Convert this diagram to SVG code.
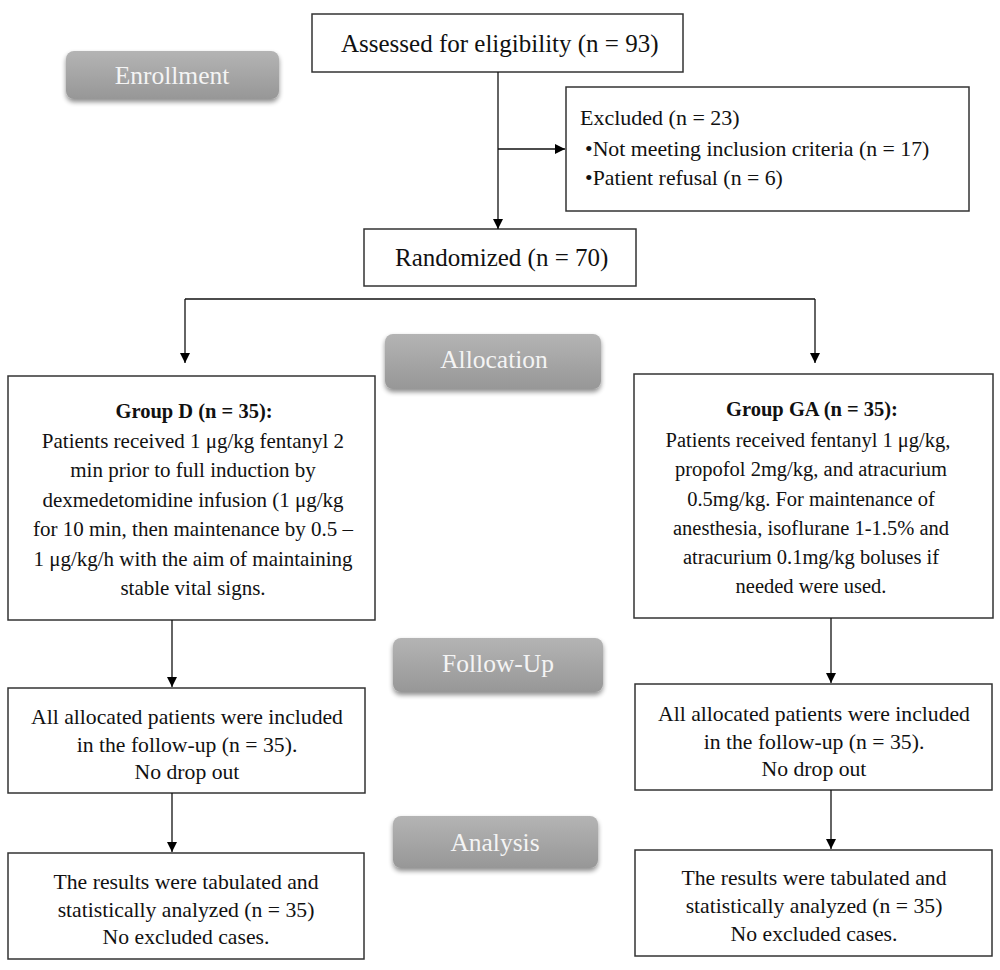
<svg xmlns="http://www.w3.org/2000/svg" width="1000" height="970" viewBox="0 0 1000 970">
<defs>
<linearGradient id="gray" x1="0" y1="0" x2="0" y2="1">
<stop offset="0" stop-color="#b4b4b4"/>
<stop offset="1" stop-color="#979797"/>
</linearGradient>
<filter id="sh" x="-10%" y="-20%" width="120%" height="150%">
<feGaussianBlur in="SourceAlpha" stdDeviation="2.5"/>
<feOffset dx="0" dy="3" result="b"/>
<feComponentTransfer><feFuncA type="linear" slope="0.45"/></feComponentTransfer>
<feMerge><feMergeNode/><feMergeNode in="SourceGraphic"/></feMerge>
</filter>
<marker id="arr" viewBox="0 0 10 10" refX="10" refY="5" markerWidth="10" markerHeight="10" markerUnits="userSpaceOnUse" orient="auto">
<path d="M0,0 L10,5 L0,10 z" fill="#000"/>
</marker>
</defs>
<style>
.box{fill:#fff;stroke:#333;stroke-width:1.5}
.lbl{fill:url(#gray);filter:url(#sh)}
.lt{font-family:"Liberation Serif","Times New Roman",serif;font-size:25.5px;fill:#f4f4f4;text-anchor:middle}
.t{font-family:"Liberation Serif","Times New Roman",serif;font-size:20.5px;fill:#111}
.f{font-size:21.7px}
.d{font-size:21px}
.ex{font-size:22px}
.bu{font-size:21.8px}
.c{text-anchor:middle}
.big{font-size:25px}
.b{font-weight:bold}
.ln{fill:none;stroke:#111;stroke-width:1.3}
</style>
<rect width="1000" height="970" fill="#fff"/>

<g id="label-enrollment"><rect class="lbl" x="66" y="51" width="213" height="48" rx="8"/><text class="lt" x="172" y="84">Enrollment</text></g>
<g id="label-allocation"><rect class="lbl" x="385" y="334" width="216" height="55" rx="8"/><text class="lt" x="494" y="368">Allocation</text></g>
<g id="label-followup"><rect class="lbl" x="393" y="638" width="210" height="54" rx="8"/><text class="lt" x="498" y="672">Follow-Up</text></g>
<g id="label-analysis"><rect class="lbl" x="393" y="816" width="205" height="52" rx="8"/><text class="lt" x="495" y="851">Analysis</text></g>

<g id="assessed"><rect class="box" x="312" y="14" width="371" height="58"/><text class="t big" x="341" y="52">Assessed for eligibility (n = 93)</text></g>
<g id="excluded"><rect class="box" x="566" y="87" width="403" height="124"/>
<text class="t ex" x="580" y="125">Excluded (n = 23)</text>
<text class="t bu" x="585" y="156">•Not meeting inclusion criteria (n = 17)</text>
<text class="t bu" x="585" y="185">•Patient refusal (n = 6)</text></g>
<g id="randomized"><rect class="box" x="364" y="229" width="272" height="57"/><text class="t big" x="395" y="266">Randomized (n = 70)</text></g>

<g id="group-d"><rect class="box" x="8" y="376" width="367" height="244"/>
<text class="t c b" x="194" y="418">Group D (n = 35):</text>
<text class="t c d" x="193" y="448">Patients received 1 μg/kg fentanyl 2</text>
<text class="t c d" x="193" y="477">min prior to full induction by</text>
<text class="t c d" x="193" y="507">dexmedetomidine infusion (1 μg/kg</text>
<text class="t c d" x="193" y="536">for 10 min, then maintenance by 0.5 –</text>
<text class="t c d" x="193" y="566">1 μg/kg/h with the aim of maintaining</text>
<text class="t c d" x="193" y="595">stable vital signs.</text></g>

<g id="group-ga"><rect class="box" x="634" y="374" width="359" height="244"/>
<text class="t c b" x="812" y="416">Group GA (n = 35):</text>
<text class="t c" x="808" y="447">Patients received fentanyl 1 μg/kg,</text>
<text class="t c" x="811" y="476">propofol 2mg/kg, and atracurium</text>
<text class="t c" x="811" y="506">0.5mg/kg. For maintenance of</text>
<text class="t c" x="811" y="535">anesthesia, isoflurane 1-1.5% and</text>
<text class="t c" x="811" y="564">atracurium 0.1mg/kg boluses if</text>
<text class="t c" x="811" y="593">needed were used.</text></g>

<g id="followup-d"><rect class="box" x="8" y="688" width="357" height="105"/>
<text class="t c f" x="187" y="724">All allocated patients were included</text>
<text class="t c f" x="187" y="752">in the follow-up (n = 35).</text>
<text class="t c f" x="187" y="779">No drop out</text></g>
<g id="followup-ga"><rect class="box" x="635" y="684" width="357" height="106"/>
<text class="t c f" x="814" y="721">All allocated patients were included</text>
<text class="t c f" x="814" y="749">in the follow-up (n = 35).</text>
<text class="t c f" x="814" y="776">No drop out</text></g>

<g id="analysis-d"><rect class="box" x="8" y="853" width="356" height="106"/>
<text class="t c f" x="186" y="889">The results were tabulated and</text>
<text class="t c f" x="186" y="917">statistically analyzed (n = 35)</text>
<text class="t c f" x="186" y="944">No excluded cases.</text></g>
<g id="analysis-ga"><rect class="box" x="635" y="850" width="357" height="106"/>
<text class="t c f" x="814" y="885">The results were tabulated and</text>
<text class="t c f" x="814" y="913">statistically analyzed (n = 35)</text>
<text class="t c f" x="814" y="941">No excluded cases.</text></g>

<g id="connectors">
<path class="ln" d="M498,72 V229" marker-end="url(#arr)"/>
<path class="ln" d="M498,149 H565" marker-end="url(#arr)"/>
<path class="ln" d="M185,299 H815"/>
<path class="ln" d="M185,299 V363" marker-end="url(#arr)"/>
<path class="ln" d="M815,299 V363" marker-end="url(#arr)"/>
<path class="ln" d="M172,620 V687" marker-end="url(#arr)"/>
<path class="ln" d="M831,618 V683" marker-end="url(#arr)"/>
<path class="ln" d="M172,793 V852" marker-end="url(#arr)"/>
<path class="ln" d="M831,790 V849" marker-end="url(#arr)"/>
</g>
</svg>
